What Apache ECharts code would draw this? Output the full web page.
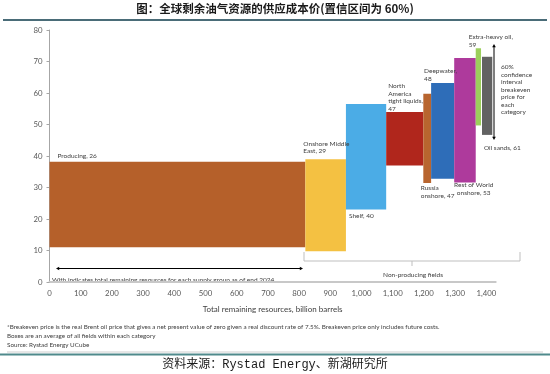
<!DOCTYPE html>
<html><head><meta charset="utf-8">
<script src="https://cdn.jsdelivr.net/npm/echarts@6/dist/echarts.min.js"></script>
<style>html,body{margin:0;padding:0;background:#fff}#c{width:550px;height:374px}</style>
</head><body><div id="c"></div>
<script>
// ---- data ----
const categories = ['Producing', 'Onshore Middle East', 'Shelf', 'North America tight liquids', 'Russia onshore', 'Deepwater', 'Rest of World onshore', 'Extra-heavy oil', 'Oil sands'];
const breakevens = [26, 29, 40, 47, 47, 48, 53, 59, 61];
const xStart = [0, 820, 950, 1079, 1198, 1223, 1297, 1366, 1386];
const xEnd = [820, 950, 1079, 1198, 1223, 1297, 1366, 1383, 1419];
const priceLow = [11, 9.8, 23, 37, 31.4, 32.8, 31.6, 49.7, 46.7];
const priceHigh = [38.2, 39, 56.5, 54, 59.8, 63.2, 71.1, 74.2, 71.5];
const labelTexts = ['Producing, 26', 'Onshore Middle\nEast, 29', 'Shelf, 40', 'North\nAmerica\ntight liquids,\n47', 'Russia\nonshore, 47', 'Deepwater,\n48', 'Rest of World\nonshore, 53', 'Extra-heavy oil,\n59', 'Oil sands, 61'];
const xTickValues = [0, 100, 200, 300, 400, 500, 600, 700, 800, 900, 1000, 1100, 1200, 1300, 1400];
const yTickValues = [0, 10, 20, 30, 40, 50, 60, 70, 80];

// ---- styles ----
const barColors = ['#B5602A', '#F4C142', '#4BACE6', '#B0261C', '#B8652F', '#2E6DB8', '#AE3A9C', '#9CCF5C', '#626262'];
const labelPlace = [
  {pos: 'above', ref: 'left', dx: 8, dy: -2},
  {pos: 'above', ref: 'left', dx: -2, dy: -4},
  {pos: 'below', ref: 'left', dx: 3, dy: 3},
  {pos: 'above', ref: 'left', dx: 2, dy: 1},
  {pos: 'below', ref: 'left', dx: -2.5, dy: 1},
  {pos: 'above', ref: 'left', dx: -7, dy: 0},
  {pos: 'below', ref: 'right', dx: -2, dy: -1, align: 'center'},
  {pos: 'above', ref: 'left', dx: -7, dy: 0},
  {pos: 'below', ref: 'left', dx: 2, dy: 9}
];
const small = 'Lato';
const txtColor = '#404040';

const chart = echarts.init(document.getElementById('c'), null, {renderer: 'canvas'});
const data = categories.map((c, i) => [xStart[i], xEnd[i], priceLow[i], priceHigh[i], breakevens[i]]);

function arrowHead(x, y, dir) {
  const s = 3.2, w = 1.8;
  let pts;
  if (dir === 'left') pts = [[x, y], [x + s, y - w], [x + s, y + w]];
  if (dir === 'right') pts = [[x, y], [x - s, y - w], [x - s, y + w]];
  if (dir === 'up') pts = [[x, y], [x - w, y + s], [x + w, y + s]];
  if (dir === 'down') pts = [[x, y], [x - w, y - s], [x + w, y - s]];
  return {type: 'polygon', shape: {points: pts}, style: {fill: '#000'}};
}

const option = {
  animation: false,
  backgroundColor: '#fff',
  grid: {left: 49.5, right: 54.3, top: 30, bottom: 92, containLabel: false},
  xAxis: {
    type: 'value', min: xTickValues[0], max: 1430, interval: 100,
    name: 'Total remaining resources, billion barrels', nameLocation: 'middle', nameGap: 23,
    nameTextStyle: {fontFamily: small, fontSize: 8, color: '#404040'},
    axisLine: {show: true, lineStyle: {color: '#C8C8C8', width: 2}},
    axisTick: {show: false},
    splitLine: {show: false},
    axisLabel: {
      showMaxLabel: false, margin: 7, fontFamily: small, fontSize: 7.8, color: '#595959',
      formatter: v => xTickValues.indexOf(v) >= 0 ? v.toLocaleString('en-US') : ''
    }
  },
  yAxis: {
    type: 'value', min: yTickValues[0], max: yTickValues[yTickValues.length - 1], interval: 10,
    axisLine: {show: true, lineStyle: {color: '#A6A6A6', width: 1}},
    axisTick: {show: true, length: 3, lineStyle: {color: '#A6A6A6'}},
    splitLine: {show: false},
    axisLabel: {margin: 7, fontFamily: small, fontSize: 7.8, color: '#595959'}
  },
  series: [{
    type: 'custom',
    data: data,
    encode: {x: [0, 1], y: [2, 3]},
    renderItem: function (params, api) {
      const i = params.dataIndex;
      const p0 = api.coord([api.value(0), api.value(3)]);
      const p1 = api.coord([api.value(1), api.value(2)]);
      const rect = {type: 'rect', shape: {x: p0[0], y: p0[1], width: p1[0] - p0[0], height: p1[1] - p0[1]}, style: {fill: barColors[i]}};
      const L = labelPlace[i];
      const tx = (L.ref === 'right' ? p1[0] : p0[0]) + L.dx;
      const ty = (L.pos === 'above' ? p0[1] : p1[1]) + L.dy;
      const text = {type: 'text', z2: 10, style: {text: labelTexts[i], x: tx, y: ty, fontSize: 6.5, fontFamily: small, fill: txtColor,
        align: L.align || 'left', verticalAlign: L.pos === 'above' ? 'bottom' : 'top', lineHeight: 7.7}};
      return {type: 'group', children: [rect, text]};
    }
  }],
  graphic: [
    {type: 'text', left: 'center', top: 3, style: {text: '图：全球剩余油气资源的供应成本价(置信区间为 60%)', fontFamily: 'Noto Sans CJK SC', fontWeight: 'bold', fontSize: 11.5, fill: '#1a1a1a'}},
    {type: 'rect', shape: {x: 3, y: 19, width: 544, height: 2}, style: {fill: '#4A6C78'}},
    {type: 'line', shape: {x1: 494, y1: 46, x2: 494, y2: 138}, style: {stroke: '#000', lineWidth: 1}},
    arrowHead(494, 44, 'up'), arrowHead(494, 140, 'down'),
    {type: 'text', style: {text: '60%\nconfidence\ninterval\nbreakeven\nprice for\neach\ncategory', x: 501, y: 63.3, fontSize: 6.5, fontFamily: small, fill: txtColor, lineHeight: 7.5}},
    {type: 'line', shape: {x1: 59, y1: 268.5, x2: 300, y2: 268.5}, style: {stroke: '#000', lineWidth: 1}},
    arrowHead(56, 268.5, 'left'), arrowHead(303, 268.5, 'right'),
    {type: 'text', style: {text: 'With indicates total remaining resources for each supply group as of end 2024', x: 52, y: 279.5, verticalAlign: 'middle', fontSize: 6.5, fontFamily: small, fill: txtColor}},
    {type: 'polyline', shape: {points: [[304, 252], [304, 261], [520, 261], [520, 252]]}, style: {stroke: '#BFBFBF', lineWidth: 1, fill: null}},
    {type: 'line', shape: {x1: 412, y1: 261, x2: 412, y2: 266}, style: {stroke: '#BFBFBF', lineWidth: 1}},
    {type: 'text', style: {text: 'Non-producing fields', x: 413, y: 275, align: 'center', verticalAlign: 'middle', fontSize: 6.5, fontFamily: small, fill: txtColor}},
    {type: 'text', style: {text: '*Breakeven price is the real Brent oil price that gives a net present value of zero given a real discount rate of 7.5%. Breakeven price only includes future costs.\nBoxes are an average of all fields within each category\nSource: Rystad Energy UCube',
      x: 7, y: 322.5, fontSize: 6.3, fontFamily: small, fill: txtColor, lineHeight: 9}},
    {type: 'rect', shape: {x: 7, y: 351.5, width: 536, height: 1}, style: {fill: '#D0D0D0'}},
    {type: 'rect', shape: {x: 0, y: 353.5, width: 550, height: 2}, style: {fill: '#4F8A8C'}},
    {type: 'text', left: 'center', top: 359, style: {text: '资料来源：Rystad Energy、新湖研究所', fontFamily: "'Liberation Mono', 'Noto Sans CJK SC'", fontSize: 12, fill: '#1a1a1a'}}
  ]
};
chart.setOption(option);
</script>
</body></html>
